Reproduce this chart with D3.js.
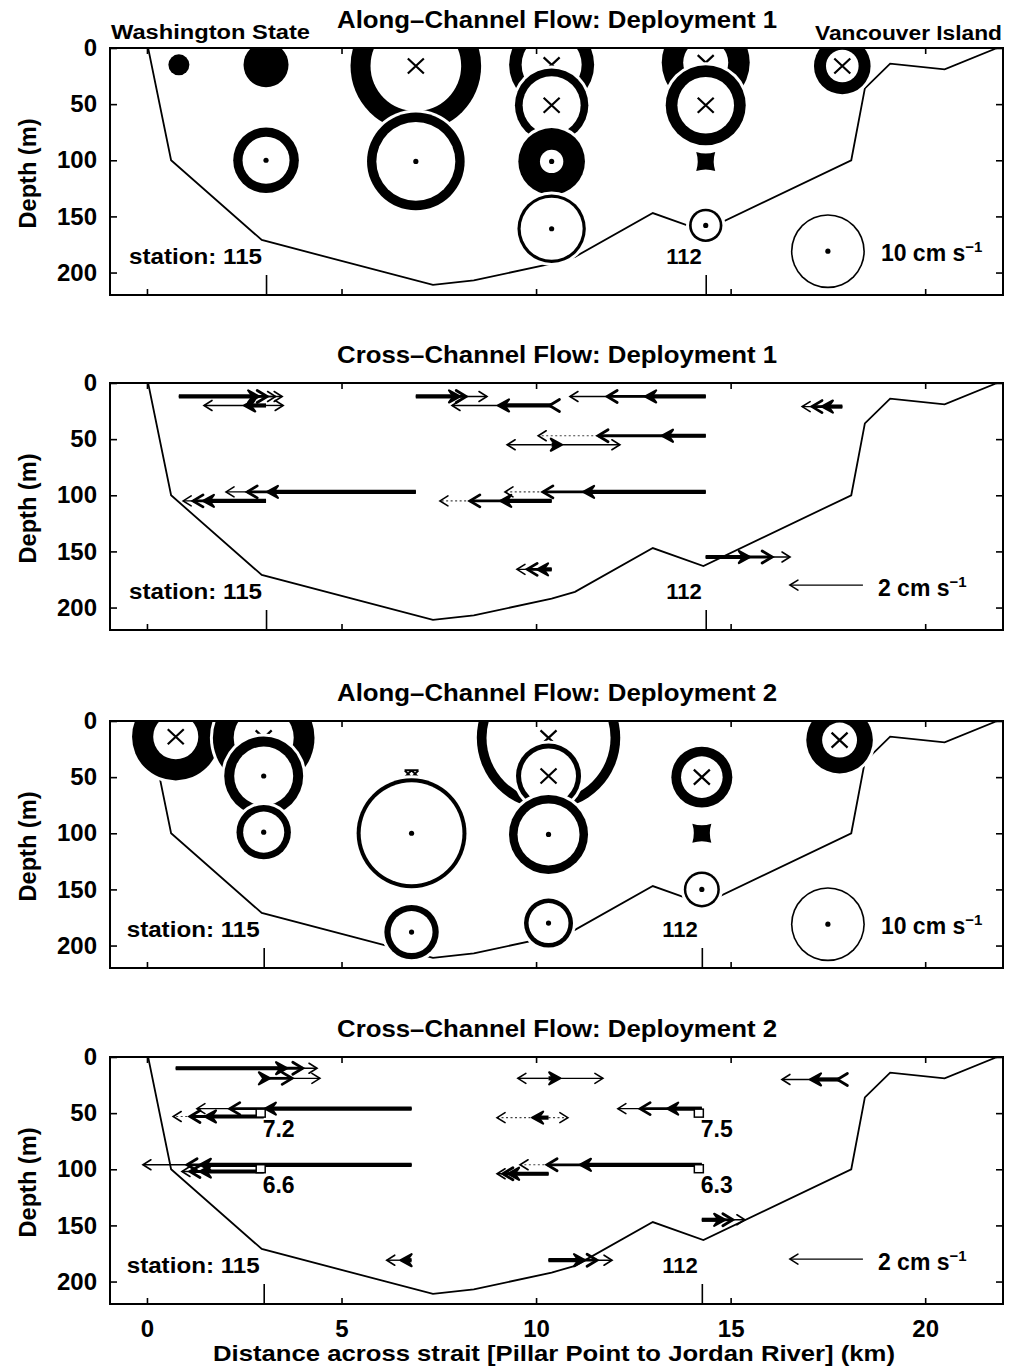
<!DOCTYPE html>
<html>
<head>
<meta charset="utf-8">
<script src="https://cdn.jsdelivr.net/npm/d3@7"></script>
<style>
  body { margin: 0; background: #fff; }
  svg { display: block; }
  text { font-family: "Liberation Sans", Arial, Helvetica, sans-serif; font-weight: bold; fill: #000; }
</style>
</head>
<body>
<svg id="fig" width="1009" height="1371"></svg>
<script>
// ---- Mooring stations (km across the strait) for each deployment ----
const stationsD1 = [0.82, 3.06, 6.91, 10.4, 14.36, 17.87];
const stationsD2 = [0.74, 3.0, 6.8, 10.32, 14.26, 17.8];
const stationLabels = [{ st: 1, text: "station: 115" }, { st: 4, text: "112" }];

// ---- Bottom profile: [distance km, depth m] ----
const bathymetry = [[0.03, 0], [0.62, 100], [2.95, 171], [7.35, 211], [8.4, 207], [10.4, 192],
  [11.0, 186], [13.0, 147], [14.3, 163], [18.1, 100], [18.45, 36], [19.1, 14], [20.5, 19], [21.85, 0]];

// ---- Along-channel flow: mean speed s and spread e (cm/s) ----
// dir: "in" = into the page, "out" = out of the page, "calm" = near zero, "mixed" = reversing
const alongD1 = [
  { st: 0, z: 15,  s: 1.42,  e: 1.42, dir: "in" },
  { st: 1, z: 15,  s: 3.04,  e: 3.04, dir: "in" },
  { st: 1, z: 100, s: 7.61,  e: 1.26, dir: "out" },
  { st: 2, z: 16,  s: 14.95, e: 2.7,  dir: "in" },
  { st: 2, z: 101, s: 11.93, e: 1.26, dir: "out" },
  { st: 3, z: 15,  s: 9.8,   e: 1.69, dir: "in" },
  { st: 3, z: 51,  s: 8.88,  e: 1.04, dir: "in" },
  { st: 3, z: 101, s: 6.08,  e: 2.92, dir: "out" },
  { st: 3, z: 161, s: 8.81,  e: 0.43, dir: "out" },
  { st: 4, z: 13,  s: 8.99,  e: 2.9,  dir: "in" },
  { st: 4, z: 51,  s: 9.23,  e: 1.58, dir: "in" },
  { st: 4, z: 101, dir: "calm" },
  { st: 4, z: 158, s: 4.15,  e: 0.36, dir: "out" },
  { st: 5, z: 16,  s: 6.03,  e: 1.62, dir: "in" }
];
const alongD2 = [
  { st: 0, z: 14,  s: 8.95,  e: 2.86, dir: "in" },
  { st: 1, z: 15,  s: 10.92, e: 2.81, dir: "in" },
  { st: 1, z: 49,  s: 9.32,  e: 1.35, dir: "out" },
  { st: 1, z: 99,  s: 6.45,  e: 0.9,  dir: "out" },
  { st: 2, z: 47,  dir: "mixed" },
  { st: 2, z: 100, s: 14.3,  e: 0.54, dir: "out" },
  { st: 2, z: 188, s: 6.51,  e: 0.84, dir: "out" },
  { st: 3, z: 15,  s: 18.07, e: 1.31, dir: "in" },
  { st: 3, z: 49,  s: 8.11,  e: 0.68, dir: "in" },
  { st: 3, z: 101, s: 9.53,  e: 1.15, dir: "out" },
  { st: 3, z: 180, s: 6.01,  e: 0.61, dir: "out" },
  { st: 4, z: 50,  s: 6.93,  e: 1.31, dir: "in" },
  { st: 4, z: 100, dir: "calm" },
  { st: 4, z: 150, s: 4.53,  e: 0.34, dir: "out" },
  { st: 5, z: 17,  s: 6.86,  e: 2.14, dir: "in" }
];

// ---- Cross-channel flow: signed components (cm/s, + toward Vancouver Island) ----
const crossD1 = [
  { st: 0, z: 12,  u: [[2.2, "heavy"], [2.42, "mid"], [2.65, "light"], [2.83, "light"]] },
  { st: 1, z: 20,  u: [[-0.6, "heavy"], [-1.7, "light"], [0.47, "light"]] },
  { st: 1, z: 105, u: [[-1.73, "heavy"], [-2.0, "mid"], [-2.27, "light"]] },
  { st: 2, z: 12,  u: [[1.21, "heavy"], [1.38, "mid"], [1.95, "light"]] },
  { st: 2, z: 97,  u: [[-4.08, "heavy"], [-4.62, "mid"], [-5.2, "light"]] },
  { st: 3, z: 20,  u: [[-1.47, "heavy"], [-0.06, "mid"], [-2.73, "light"]] },
  { st: 3, z: 55,  u: [[0.28, "heavy"], [-1.22, "light"], [1.87, "light"]] },
  { st: 3, z: 105, u: [[-1.41, "heavy"], [-2.24, "mid"], [-3.06, "dot"]] },
  { st: 3, z: 166, u: [[-0.4, "heavy"], [-0.67, "mid"], [-0.95, "light"]] },
  { st: 4, z: 12,  u: [[-1.66, "heavy"], [-2.7, "mid"], [-3.72, "light"]] },
  { st: 4, z: 47,  u: [[-1.2, "heavy"], [-2.95, "mid"], [-4.59, "dot"]] },
  { st: 4, z: 97,  u: [[-3.36, "heavy"], [-4.46, "mid"], [-5.5, "dot"]] },
  { st: 4, z: 155, u: [[1.21, "heavy"], [1.82, "mid"], [2.31, "light"]] },
  { st: 5, z: 21,  u: [[-0.56, "heavy"], [-0.83, "mid"], [-1.1, "light"]] }
];
const crossD2 = [
  { st: 0, z: 10,  u: [[3.05, "heavy"], [3.48, "mid"], [3.87, "light"]] },
  { st: 1, z: 19,  u: [[0.17, "heavy"], [0.78, "mid"], [1.54, "light"]] },
  { st: 1, z: 53,  u: [[-1.61, "heavy"], [-2.02, "mid"], [-2.48, "dot"]] },
  { st: 1, z: 102, u: [[-1.75, "heavy"], [-2.02, "mid"], [-2.24, "light"]] },
  { st: 2, z: 46,  u: [[-4.02, "heavy"], [-4.98, "mid"], [-5.88, "light"]] },
  { st: 2, z: 96,  u: [[-5.8, "heavy"], [-6.15, "mid"], [-7.36, "light"]] },
  { st: 2, z: 181, u: [[-0.3, "heavy"], [-0.68, "light"]] },
  { st: 3, z: 19,  u: [[0.32, "heavy"], [-0.84, "light"], [1.49, "light"]] },
  { st: 3, z: 54,  u: [[-0.45, "heavy"], [-1.41, "dot"], [0.53, "dot"]] },
  { st: 3, z: 104, u: [[-1.11, "heavy"], [-1.25, "mid"], [-1.41, "light"]] },
  { st: 3, z: 181, u: [[1.0, "heavy"], [1.33, "mid"], [1.74, "light"]] },
  { st: 4, z: 46,  u: [[-0.95, "heavy"], [-1.69, "mid"], [-2.3, "light"]] },
  { st: 4, z: 96,  u: [[-3.34, "heavy"], [-4.24, "mid"], [-4.98, "dot"]] },
  { st: 4, z: 145, u: [[0.64, "heavy"], [0.85, "mid"], [1.18, "light"]] },
  { st: 5, z: 20,  u: [[-0.81, "heavy"], [-0.06, "mid"], [-1.58, "light"]] }
];
// Off-scale speeds flagged with a box at the mooring
const flagsD2 = [
  { st: 1, z: 50, speed: 7.2 }, { st: 1, z: 99.5, speed: 6.6 },
  { st: 4, z: 50, speed: 7.5 }, { st: 4, z: 99.5, speed: 6.3 }
];

// ---- Axis ticks and labels ----
const xTicks = [0, 5, 10, 15, 20];
const yTicks = [0, 50, 100, 150, 200];
const titles = [
  "Along\u2013Channel Flow: Deployment 1",
  "Cross\u2013Channel Flow: Deployment 1",
  "Along\u2013Channel Flow: Deployment 2",
  "Cross\u2013Channel Flow: Deployment 2"
];
const xTitle = "Distance across strait [Pillar Point to Jordan River] (km)";
const yTitle = "Depth (m)";
const along_ref = { k: 17.5, z: 181, s: 10, label: "10 cm s" };
const cross_ref = { k: 18.4, z: 180, u: -2, label: "2 cm s" };

// ---------------------------------------------------------------------------
const svg = d3.select("#fig");
const FONT = "Liberation Sans, Arial, Helvetica, sans-serif";
const x = d3.scaleLinear().domain([-0.95, 22]).range([110, 1003]);
const panelTops = [48, 383, 721, 1057];
const panelH = 247;
const rScale = d3.scaleLinear().domain([0, 10]).range([0, 37]);   // circle radius per speed
const vScale = d3.scaleLinear().domain([0, 2]).range([0, 73]);    // arrow length per speed

const panels = [
  { kind: "along", stations: stationsD1, data: alongD1 },
  { kind: "cross", stations: stationsD1, data: crossD1, flags: [] },
  { kind: "along", stations: stationsD2, data: alongD2 },
  { kind: "cross", stations: stationsD2, data: crossD2, flags: flagsD2 }
];

const vecStyle = {
  heavy: { w: 4.2, hw: 2.2, L: 11, H: 6, filled: true },
  mid:   { w: 2.8, hw: 2.8, L: 10, H: 6 },
  light: { w: 1.4, hw: 1.6, L: 8,  H: 5 },
  dot:   { w: 1.1, hw: 1.6, L: 8,  H: 5, dash: "2,2.5", color: "#444" }
};
const drawOrder = ["dot", "light", "mid", "heavy"];

function calmPath(h, b) {
  return `M${-h},${-h}Q0,${-h + b} ${h},${-h}Q${h - b},0 ${h},${h}Q0,${h - b} ${-h},${h}Q${-h + b},0 ${-h},${-h}Z`;
}

// a text element stretched to a given width, keeping its glyph height
function fitText(sel, width) {
  return sel.attr("textLength", width).attr("lengthAdjust", "spacingAndGlyphs");
}

function drawCircleMarker(g, cx, cy, s, e, dir) {
  const R = rScale(s + e);
  const ring = Math.max(rScale(2 * e), 1.6);
  const ri = R - ring;
  const mg = g.append("g").attr("transform", `translate(${cx},${cy})`);
  mg.append("circle").attr("r", R + 3).attr("fill", "#fff");
  mg.append("circle").attr("r", R).attr("fill", "#000");
  if (ri > 0) {
    mg.append("circle").attr("r", ri).attr("fill", "#fff");
    if (dir === "in") {
      mg.append("path").attr("d", "M-8,-7.5L8,7.5M-8,7.5L8,-7.5")
        .attr("stroke", "#000").attr("stroke-width", 2.2).attr("fill", "none");
    } else {
      mg.append("circle").attr("r", 2.6).attr("fill", "#000");
    }
  }
}

function drawArrow(g, x0, y0, u, kind) {
  const st = vecStyle[kind];
  const dir = u < 0 ? -1 : 1;
  const x1 = x0 + dir * vScale(Math.abs(u));
  g.append("line").attr("x1", x0).attr("x2", x1 - dir * (st.filled ? 4 : 0)).attr("y1", y0).attr("y2", y0)
    .attr("stroke", st.color || "#000").attr("stroke-width", st.w)
    .attr("stroke-dasharray", st.dash || null);
  if (st.filled) {
    g.append("path")
      .attr("d", `M${x1},${y0}L${x1 - dir * st.L},${y0 - st.H}L${x1 - dir * st.L * 0.6},${y0}L${x1 - dir * st.L},${y0 + st.H}Z`)
      .attr("fill", "#000").attr("stroke", "#000").attr("stroke-width", st.hw).attr("stroke-linejoin", "round");
  } else {
    g.append("path")
      .attr("d", `M${x1 - dir * st.L},${y0 - st.H}L${x1},${y0}L${x1 - dir * st.L},${y0 + st.H}`)
      .attr("fill", "none").attr("stroke", "#000").attr("stroke-width", st.hw)
      .attr("stroke-linejoin", "miter").attr("stroke-linecap", "round");
  }
}

panels.forEach((p, i) => {
  const top = panelTops[i];
  const y = d3.scaleLinear().domain([0, 220]).range([top, top + panelH]);
  const g = svg.append("g");
  const clipId = "clip" + i;
  svg.append("defs").append("clipPath").attr("id", clipId).append("rect")
    .attr("x", x.range()[0]).attr("y", top)
    .attr("width", x.range()[1] - x.range()[0]).attr("height", panelH);
  const inner = g.append("g").attr("clip-path", `url(#${clipId})`);

  // bottom profile
  inner.append("path").datum(bathymetry)
    .attr("d", d3.line().x(d => x(d[0])).y(d => y(d[1])))
    .attr("fill", "none").attr("stroke", "#000").attr("stroke-width", 1.8);

  if (p.kind === "along") {
    p.data.slice().sort((a, b) => a.z - b.z).forEach(m => {
      const cx = x(p.stations[m.st]), cy = y(m.z);
      if (m.dir === "calm") {
        inner.append("path").attr("transform", `translate(${cx},${cy})`)
          .attr("d", calmPath(9.5, 3)).attr("fill", "#000");
      } else if (m.dir === "mixed") {
        inner.append("path").attr("transform", `translate(${cx},${cy})`)
          .attr("d", "M-7,-3.5H7M-7,3.5H7M-7,-3.5L0,3.5M0,-3.5L-7,3.5M0,-3.5L7,3.5M7,-3.5L0,3.5")
          .attr("fill", "none").attr("stroke", "#000").attr("stroke-width", 1.8);
      } else {
        drawCircleMarker(inner, cx, cy, m.s, m.e, m.dir);
      }
    });
    // reference circle
    drawCircleMarker(inner, x(along_ref.k), y(along_ref.z), along_ref.s, 0, "out");
    const t = g.append("text").attr("x", x(along_ref.k) + rScale(along_ref.s) + 16)
      .attr("y", y(190)).attr("font-size", 23).text(along_ref.label);
    t.append("tspan").attr("dy", -9).attr("font-size", 15).text("\u22121");
  } else {
    p.data.forEach(row => {
      const x0 = x(p.stations[row.st]), y0 = y(row.z);
      row.u.slice().sort((a, b) => drawOrder.indexOf(a[1]) - drawOrder.indexOf(b[1]))
        .forEach(([u, kind]) => drawArrow(inner, x0, y0, u, kind));
    });
    p.flags.forEach(f => {
      const fx = x(p.stations[f.st]), fy = y(f.z);
      inner.append("rect").attr("x", fx - 7.5).attr("y", fy - 4).attr("width", 9).attr("height", 8)
        .attr("fill", "#fff").attr("stroke", "#000").attr("stroke-width", 1.5);
      g.append("text").attr("x", fx - 1).attr("y", fy + 24).attr("font-size", 23)
        .text(d3.format(".1f")(f.speed));
    });
    // reference arrow
    const x0 = x(cross_ref.k);
    drawArrow(inner, x0, y(cross_ref.z), cross_ref.u, "light");
    const t = g.append("text").attr("x", x0 + 15).attr("y", y(190)).attr("font-size", 23).text(cross_ref.label);
    t.append("tspan").attr("dy", -9).attr("font-size", 15).text("\u22121");
  }

  // station labels
  stationLabels.forEach((sl, j) => {
    const t = g.append("text").attr("x", x(p.stations[sl.st]) - 4).attr("y", y(192))
      .attr("text-anchor", "end").attr("font-size", 22).text(sl.text);
    if (j === 0) fitText(t, 133);
  });

  // frame
  g.append("rect").attr("x", x.range()[0]).attr("y", top)
    .attr("width", x.range()[1] - x.range()[0]).attr("height", panelH)
    .attr("fill", "none").attr("stroke", "#000").attr("stroke-width", 2);

  function styleAxis(a) {
    a.select(".domain").remove();
    a.attr("font-size", 24).attr("font-family", FONT).attr("font-weight", "bold").attr("color", "#000");
    a.selectAll(".tick line").attr("stroke-width", 1.6);
  }
  const last = i === panels.length - 1;
  g.append("g").attr("transform", `translate(${x.range()[0]},0)`)
    .call(d3.axisLeft(y).tickValues(yTicks).tickSizeInner(-7).tickSizeOuter(0).tickPadding(13)).call(styleAxis);
  g.append("g").attr("transform", `translate(${x.range()[1]},0)`)
    .call(d3.axisRight(y).tickValues(yTicks).tickSizeInner(-7).tickSizeOuter(0).tickFormat(() => "")).call(styleAxis);
  g.append("g").attr("transform", `translate(0,${top})`)
    .call(d3.axisTop(x).tickValues(xTicks).tickSizeInner(-6).tickSizeOuter(0).tickFormat(() => "")).call(styleAxis);
  g.append("g").attr("transform", `translate(0,${top + panelH})`)
    .call(d3.axisBottom(x).tickValues(xTicks).tickSizeInner(-6).tickSizeOuter(0).tickPadding(16)
      .tickFormat(last ? d3.format("d") : () => "")).call(styleAxis);
  g.append("g").attr("transform", `translate(0,${top + panelH})`)
    .call(d3.axisBottom(x).tickValues(stationLabels.map(s => p.stations[s.st])).tickSizeInner(-20)
      .tickSizeOuter(0).tickFormat(() => "")).call(styleAxis);

  // titles
  fitText(g.append("text").attr("x", 557).attr("y", top - 20).attr("text-anchor", "middle")
    .attr("font-size", 23).text(titles[i]), 440);
  fitText(g.append("text").attr("transform", `translate(36,${top + panelH / 2 + 2}) rotate(-90)`)
    .attr("text-anchor", "middle").attr("font-size", 23).text(yTitle), 110);
});

// shore labels
fitText(svg.append("text").attr("x", 111).attr("y", 39).attr("font-size", 20).text("Washington State"), 199);
fitText(svg.append("text").attr("x", 1002).attr("y", 40).attr("text-anchor", "end").attr("font-size", 20)
  .text("Vancouver Island"), 187);
// x axis title
fitText(svg.append("text").attr("x", 554).attr("y", 1361).attr("text-anchor", "middle")
  .attr("font-size", 22).text(xTitle), 682);
</script>
</body>
</html>
